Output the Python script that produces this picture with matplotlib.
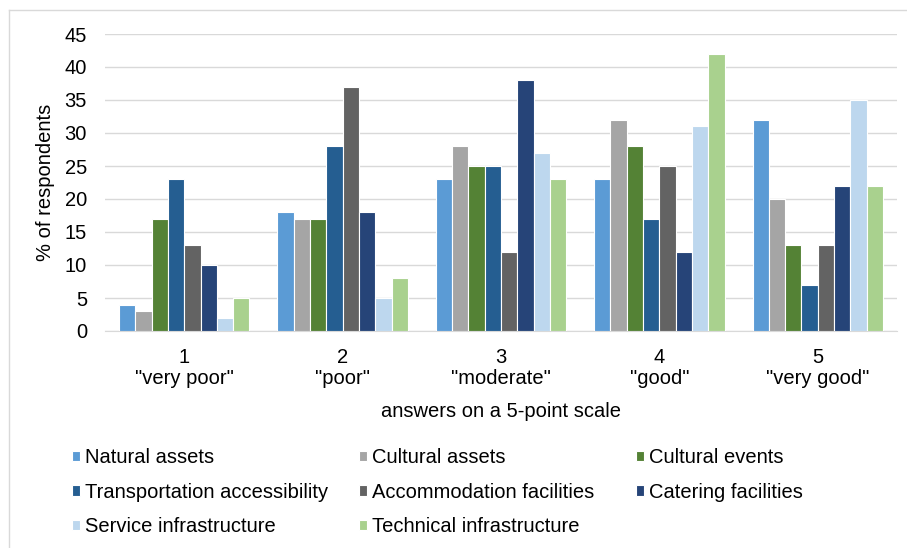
import numpy as np
import matplotlib
matplotlib.use("Agg")
import matplotlib.pyplot as plt
from matplotlib.lines import Line2D

plt.rcParams['font.family'] = ['Liberation Sans', 'DejaVu Sans']

categories = ['1\n"very poor"', '2\n"poor"', '3\n"moderate"', '4\n"good"', '5\n"very good"']
series = ['Natural assets', 'Cultural assets', 'Cultural events',
          'Transportation accessibility', 'Accommodation facilities', 'Catering facilities',
          'Service infrastructure', 'Technical infrastructure']
natural = [4, 18, 23, 23, 32]
cultural = [3, 17, 28, 32, 20]
events = [17, 17, 25, 28, 13]
transport = [23, 28, 25, 17, 7]
accommodation = [13, 37, 12, 25, 13]
catering = [10, 18, 38, 12, 22]
service = [2, 5, 27, 31, 35]
technical = [5, 8, 23, 42, 22]
values = [natural, cultural, events, transport, accommodation, catering, service, technical]
colors = ['#5B9BD5', '#A5A5A5', '#548235', '#255E91', '#636363', '#264478', '#BDD7EE', '#A9D18E']

fs = 14.5

fig = plt.figure(figsize=(9.07, 5.48), dpi=100)
ax = fig.add_axes([105/907, 1-331/548, 792/907, 297/548])

x = np.arange(len(categories))
w = 0.103
handles = []
for i, (vals, c) in enumerate(zip(values, colors)):
    b = ax.bar(x + (i - 3.5) * w, vals, width=w, color=c, edgecolor='white', linewidth=0.8,
               label=series[i], zorder=3)
    handles.append(b)

ax.set_xlim(-0.5, 4.5)
ax.set_ylim(0, 45)
ax.set_yticks(range(0, 50, 5))
ax.yaxis.grid(True, color='#D9D9D9', linewidth=1, zorder=0)
for s in ['top', 'right', 'left']:
    ax.spines[s].set_visible(False)
ax.spines['bottom'].set_color('#D9D9D9')
ax.tick_params(axis='both', length=0, labelsize=fs, colors='#000000')
ax.tick_params(axis='y', pad=13)
ax.tick_params(axis='x', pad=12)
ax.set_xticks(x)
ax.set_xticklabels(categories, linespacing=1.15)
ax.set_ylabel('% of respondents', fontsize=fs, labelpad=7)
ax.set_xlabel('answers on a 5-point scale', fontsize=fs, labelpad=10)

# legend: three columns placed like the original
cols = [[0, 3, 6], [1, 4, 7], [2, 5]]
col_x = [72, 359, 636]
for cx, idx in zip(col_x, cols):
    leg = fig.legend([handles[k] for k in idx], [series[k] for k in idx], ncol=1,
                     loc='upper left', bbox_to_anchor=(cx/907, 1-448/548), frameon=False,
                     fontsize=fs, handlelength=0.4, handleheight=0.4, handletextpad=0.25,
                     labelspacing=0.78, borderaxespad=0, borderpad=0)

# chart frame (left and top edges visible)
fig.add_artist(Line2D([9/907, 9/907], [0, 1-10/548], color='#D9D9D9', linewidth=1, transform=fig.transFigure))
fig.add_artist(Line2D([9/907, 1], [1-10/548, 1-10/548], color='#D9D9D9', linewidth=1, transform=fig.transFigure))

fig.savefig('out.png', dpi=100)
